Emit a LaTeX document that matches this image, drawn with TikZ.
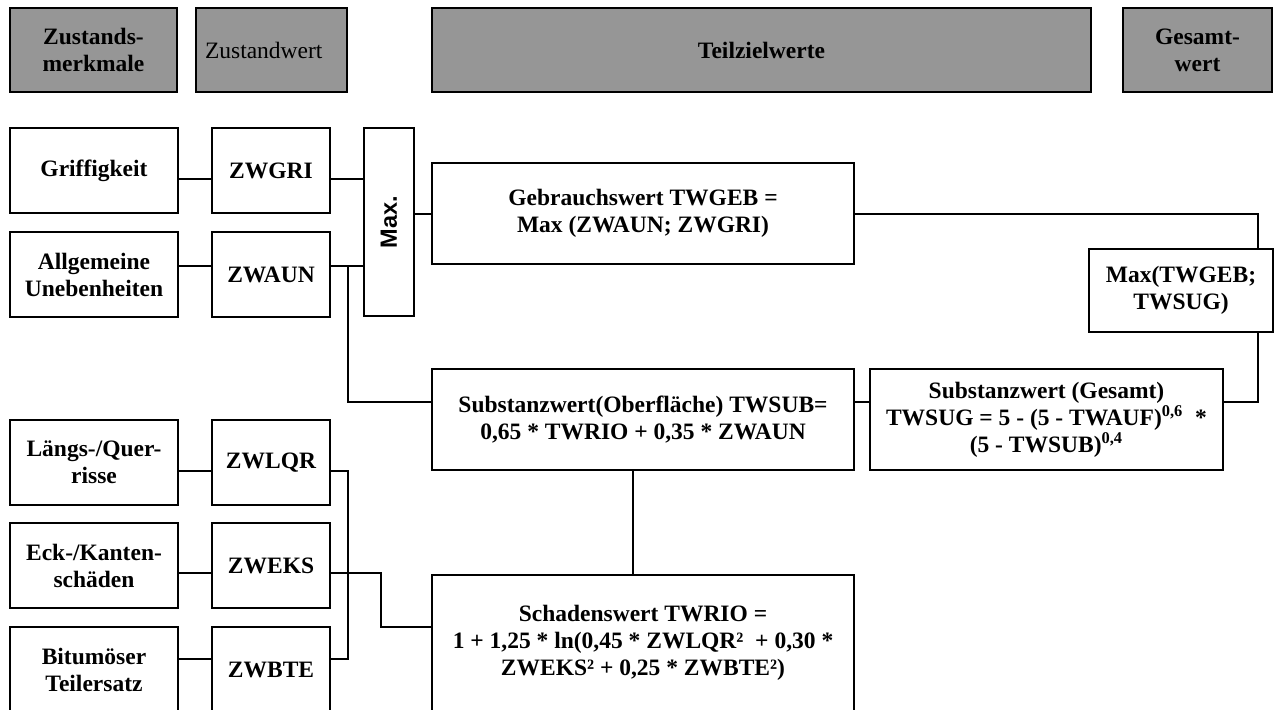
\documentclass[tikz,border=0pt]{standalone}
\usepackage{fontspec}
\setmainfont{Liberation Serif}
\setsansfont{Liberation Sans}
\usepackage{graphicx}
\usepackage{xcolor}
\usetikzlibrary{positioning, calc}
\definecolor{headgray}{RGB}{150,150,150}
\newcommand{\diagfont}{\fontsize{11.75pt}{13.5pt}\selectfont}

\begin{document}
\begin{tikzpicture}[
      font=\diagfont\bfseries,
      node distance=8pt and 16pt,
      head/.style={draw, line width=1pt, fill=headgray, align=center,
                  minimum height=42pt, inner sep=2pt},
      merkmal/.style={draw, line width=1pt, align=center, minimum width=84pt,
                  minimum height=42.5pt, inner sep=2pt},
      zwert/.style={draw, line width=1pt, align=center, minimum width=59pt,
                  minimum height=42.5pt, inner sep=2pt},
      formel/.style={draw, line width=1pt, align=center, minimum width=211pt,
                  minimum height=50.5pt, inner sep=2pt},
      link/.style={line width=1pt}
    ]
    \useasboundingbox (0,0) rectangle (638pt,-354.5pt);

    % Kopfzeile
    \node[head, anchor=north west, minimum width=83.5pt] (hmerk) at (4.5pt,-3.5pt) {Zustands-\\merkmale};
    \node[head, right=8.5pt of hmerk, font=\diagfont, text width=66.5pt, inner xsep=4.5pt, align=left] (hzw) {Zustandwert};
    \node[head, right=41.5pt of hzw, minimum width=329.5pt] (htz) {Teilzielwerte};
    \node[head, right=15pt of htz, minimum width=74.5pt] (hges) {Gesamt-\\wert};

    % Gebrauchswert
    \node[merkmal, anchor=north west] (grif) at (4.5pt,-63.5pt) {Griffigkeit};
    \node[zwert, right=of grif] (zwgri) {ZWGRI};
    \node[merkmal, below=8.5pt of grif] (allg) {Allgemeine\\Unebenheiten};
    \node[zwert, right=of allg] (zwaun) {ZWAUN};
    \node[draw, line width=1pt, minimum width=25pt, minimum height=94pt, inner sep=0pt,
          right=16pt of zwgri.north east, anchor=north west] (maxb) {\rotatebox{90}{\sffamily Max.}};
    \node[formel, right=8pt of maxb, yshift=4.25pt] (gebr) {Gebrauchswert TWGEB =\\Max (ZWAUN; ZWGRI)};

    % Substanzwert
    \node[formel, below=51.5pt of gebr] (sobf) {Substanzwert(Oberfläche) TWSUB=\\0,65 * TWRIO + 0,35 * ZWAUN};
    \node[formel, right=7pt of sobf, minimum width=176.5pt] (sges) {Substanzwert (Gesamt)\\TWSUG = 5 - (5 - TWAUF)\textsuperscript{0,6}\ \ *\\(5 - TWSUB)\textsuperscript{0,4}};
    \node[formel, below=51.5pt of sobf, minimum height=68pt] (schad) {Schadenswert TWRIO =\\1 + 1,25 * ln(0,45 * ZWLQR²\ \ + 0,30 *\\ZWEKS² + 0,25 * ZWBTE²)};
    \node[merkmal, anchor=north west, minimum width=92pt, minimum height=41.5pt] (maxtw) at (544pt,-124pt) {Max(TWGEB;\\TWSUG)};

    % Schadenswert
    \node[merkmal, anchor=north west] (lqr) at (4.5pt,-209.5pt) {Längs-/Quer-\\risse};
    \node[zwert, right=of lqr] (zwlqr) {ZWLQR};
    \node[merkmal, below=8pt of lqr] (eks) {Eck-/Kanten-\\schäden};
    \node[zwert, right=of eks] (zweks) {ZWEKS};
    \node[merkmal, below=8.5pt of eks] (bte) {Bitumöser\\Teilersatz};
    \node[zwert, right=of bte] (zwbte) {ZWBTE};

    \coordinate (pgri) at ([yshift=-4.25pt]zwgri.east);
    \coordinate (paun) at ([yshift=4.5pt]zwaun.east);
    \coordinate (psub) at ([yshift=8.75pt]sobf.west);
    \coordinate (plqr) at ([yshift=-4.25pt]zwlqr.east);
    \coordinate (peks) at ([yshift=-3.75pt]zweks.east);
    \coordinate (pbte) at ([yshift=5.25pt]zwbte.east);

    \draw[link] ([yshift=-4.25pt]grif.east) -- ([yshift=-4.25pt]zwgri.west);
    \draw[link] (pgri) -- (pgri -| maxb.west);
    \draw[link] ([yshift=4.5pt]allg.east) -- ([yshift=4.5pt]zwaun.west);
    \draw[link] (paun) -- (paun -| maxb.west);
    \draw[link] (gebr.west -| maxb.east) -- (gebr.west);
    \draw[link] ([xshift=8.5pt]paun) |- (psub);
    \draw[link] (psub -| sobf.east) -- (psub -| sges.west);
    \draw[link] (gebr.east) -| ([xshift=38.5pt]maxtw.north);
    \draw[link] ([xshift=38.5pt]maxtw.south) |- (psub -| sges.east);
    \draw[link] ([xshift=-5pt]sobf.south) -- ([xshift=-5pt]schad.north);

    \draw[link] ([yshift=-4.25pt]lqr.east) -- ([yshift=-4.25pt]zwlqr.west);
    \draw[link] ([yshift=-3.75pt]eks.east) -- ([yshift=-3.75pt]zweks.west);
    \draw[link] ([yshift=5.25pt]bte.east) -- ([yshift=5.25pt]zwbte.west);
    \draw[link] (plqr) -- ++(8.5pt,0) |- (pbte);
    \draw[link] (peks) -- ++(25pt,0) |- ([yshift=8pt]schad.west);
  \end{tikzpicture}
\end{document}
